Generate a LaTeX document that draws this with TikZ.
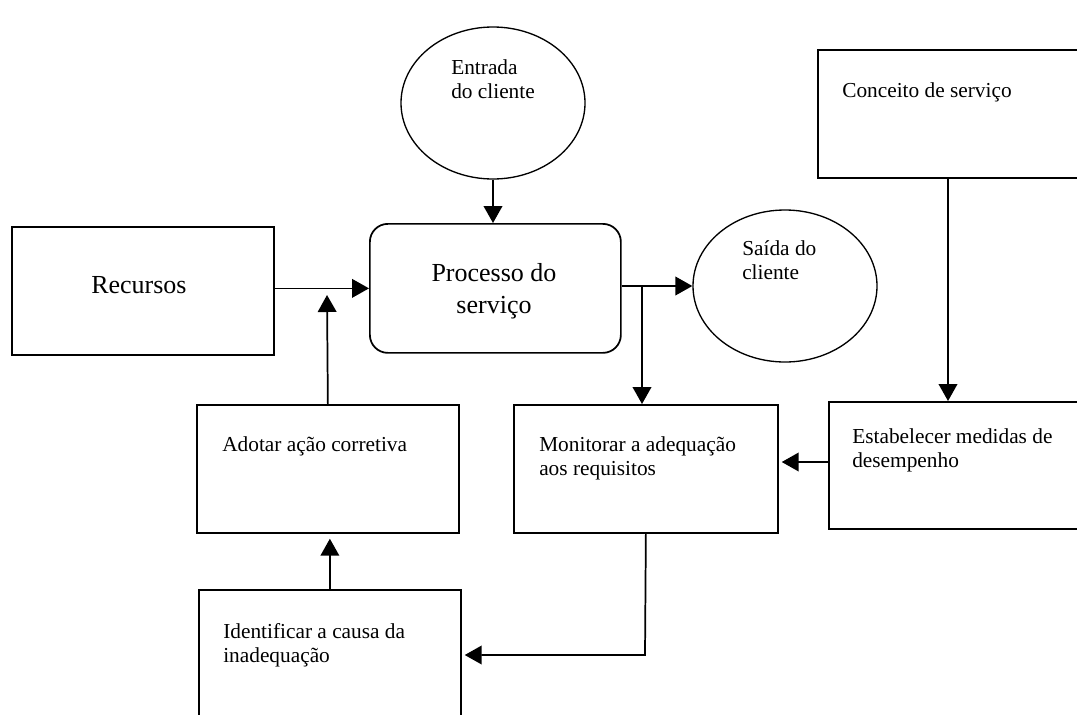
\documentclass[tikz,border=0pt]{standalone}
\usepackage{fontspec}
\setmainfont{Liberation Serif}
\usetikzlibrary{arrows.meta,shapes.geometric}
\begin{document}
\begin{tikzpicture}[x=0.75pt,y=-0.75pt,
  box/.style={draw, line width=1.3pt, inner sep=0pt, anchor=north west},
  oval/.style={draw, ellipse, line width=1pt, inner sep=0pt, minimum width=138pt, minimum height=114pt},
  lbl/.style={anchor=base west, inner sep=0pt, align=left, font=\fontsize{16pt}{18pt}\selectfont},
  big/.style={anchor=base, inner sep=0pt, align=center, font=\fontsize{19.5pt}{24pt}\selectfont},
  conn/.style={line width=1.3pt, -{Triangle[length=12.75pt,width=14pt]}},
  link/.style={line width=1.3pt}]
\useasboundingbox (0,0) rectangle (1077,714);
% shapes
\node[box, minimum width=196.5pt, minimum height=96pt] (rec) at (11,226) {};
\node[box, rounded corners=13.5pt, minimum width=188.25pt, minimum height=96.75pt] (proc) at (369,223) {};
\node[box, minimum width=212.25pt, minimum height=96pt] (conc) at (817,49) {};
\node[box, minimum width=196.5pt, minimum height=96pt] (adot) at (196,404) {};
\node[box, minimum width=198pt, minimum height=96pt] (mon) at (513,404) {};
\node[box, minimum width=204pt, minimum height=95.25pt] (est) at (828,401) {};
\node[box, minimum width=196.5pt, minimum height=113.25pt] (ident) at (198,589) {};
\node[oval] (ent) at (493,103) {};
\node[oval] (sai) at (785,286) {};
% texts (base anchor of a multi-line node = baseline of its last line)
\node[lbl] (t-ent) at (451,98) {Entrada\\do cliente};
\node[lbl] (t-conc) at (842,97) {Conceito de serviço};
\node[lbl] (t-sai) at (742,279) {Saída do\\cliente};
\node[lbl] (t-adot) at (222,451) {Adotar ação corretiva};
\node[lbl] (t-mon) at (539,475) {Monitorar a adequação\\aos requisitos};
\node[lbl] (t-est) at (852,467) {Estabelecer medidas de\\desempenho};
\node[lbl] (t-ident) at (223,662) {Identificar a causa da\\inadequação};
\node[big, anchor=base west] (t-rec) at (91,293) {Recursos};
\node[big] (t-proc) at (494,313) {Processo do\\serviço};
% helper coordinates
\coordinate (j1) at (642,286);
\coordinate (cup) at (327,295);
\coordinate (x948) at (948,0);
\coordinate (c7) at (0,462);
\coordinate (cbot) at (645,655);
% connectors
\draw[conn] (ent.south) -- (proc.north -| ent.south);
\draw[conn] (rec.east |- proc.west) -- (proc.west);
\draw[conn] (adot.north) -- (cup);
\draw[conn] (proc.east |- sai.west) -- (sai.west);
\draw[conn] (j1) -- (mon.north -| j1);
\draw[conn] (conc.south -| x948) -- (est.north -| x948);
\draw[conn, shorten >=2.25pt] (est.west |- c7) -- (mon.east |- c7);
\draw[conn, shorten >=2.25pt] (mon.south) -- (cbot) -- (ident.east |- cbot);
\draw[conn, shorten >=3.75pt] (ident.north) -- (adot.south -| ident.north);
\end{tikzpicture}
\end{document}
